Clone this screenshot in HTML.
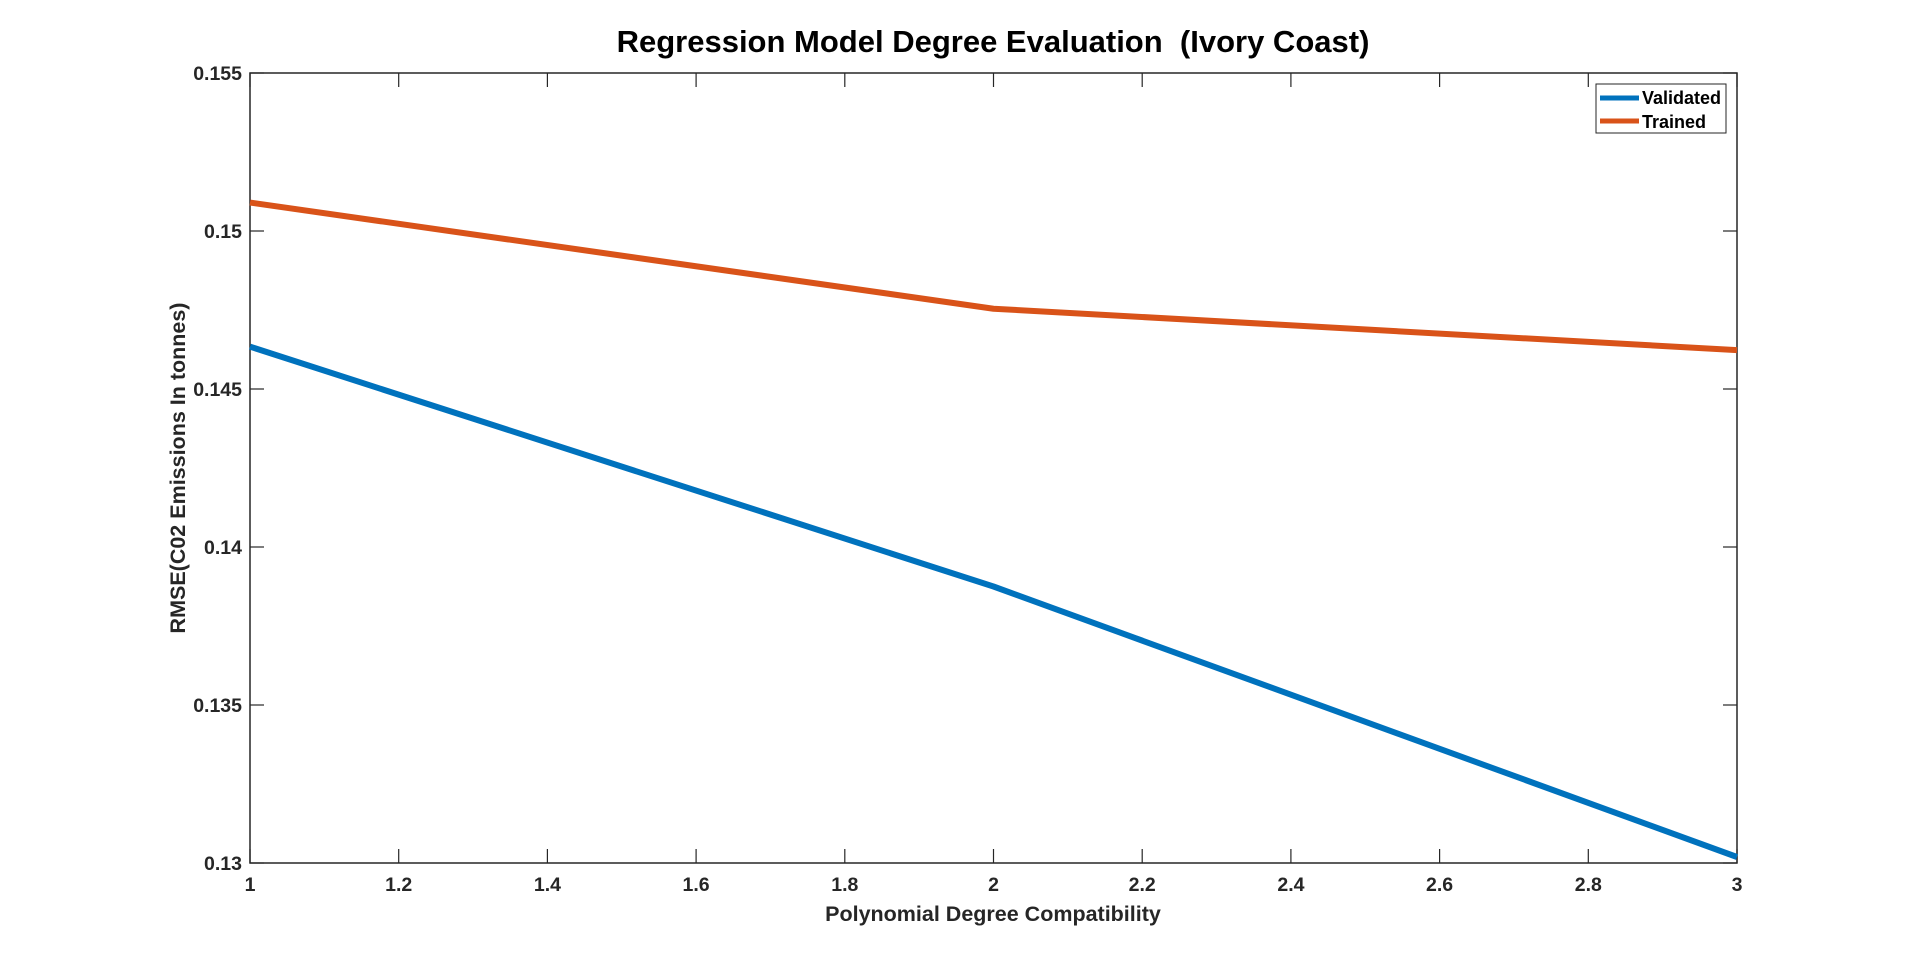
<!DOCTYPE html>
<html><head><meta charset="utf-8"><style>
html,body{margin:0;padding:0;background:#fff;}
svg text{font-family:"Liberation Sans",Arial,sans-serif;font-weight:bold;fill:#262626;}
</style></head><body>
<svg id="chart" width="1920" height="971" xmlns="http://www.w3.org/2000/svg">
<rect width="1920" height="971" fill="#fff"/>
<text x="993" y="52" font-size="31" text-anchor="middle" style="fill:#000;white-space:pre" xml:space="preserve">Regression Model Degree Evaluation  (Ivory Coast)</text>
<g id="axes"></g>
<g id="lines"></g>
<text x="993" y="921" font-size="21.5" text-anchor="middle">Polynomial Degree Compatibility</text>
<text transform="translate(185,468) rotate(-90)" font-size="21.5" text-anchor="middle">RMSE(C02 Emissions In tonnes)</text>
<g>
<rect x="1596" y="84" width="130" height="49" fill="#fff" stroke="#262626" stroke-width="1"/>
<line x1="1600" y1="98" x2="1639" y2="98" stroke="#0072BD" stroke-width="5"/>
<text x="1642" y="104" font-size="18" style="fill:#000">Validated</text>
<line x1="1600" y1="121" x2="1639" y2="121" stroke="#D95319" stroke-width="5"/>
<text x="1642" y="128" font-size="18" style="fill:#000">Trained</text>
</g>
</svg>
<script>
const degrees = [1, 2, 3];
const validated = [0.14634, 0.13875, 0.13019];
const trained = [0.1509, 0.14754, 0.14623];
const xTicks = [1, 1.2, 1.4, 1.6, 1.8, 2, 2.2, 2.4, 2.6, 2.8, 3];
const xTickLabels = ["1","1.2","1.4","1.6","1.8","2","2.2","2.4","2.6","2.8","3"];
const yTicks = [0.13, 0.135, 0.14, 0.145, 0.15, 0.155];
const yTickLabels = ["0.13","0.135","0.14","0.145","0.15","0.155"];
const L=250,R=1737,T=73,B=863, NS="http://www.w3.org/2000/svg";
const xs=v=>L+(v-1)/(3-1)*(R-L);
const ys=v=>B-(v-0.13)/(0.155-0.13)*(B-T);
const axes=document.getElementById('axes'), lines=document.getElementById('lines');
function mk(tag,attrs,parent){const e=document.createElementNS(NS,tag);for(const k in attrs)e.setAttribute(k,attrs[k]);parent.appendChild(e);return e;}
const box=mk('rect',{x:L,y:T,width:R-L,height:B-T,fill:'none',stroke:'#262626','stroke-width':1.5},axes);


xTicks.forEach((v,i)=>{const x=xs(v);
 mk('line',{x1:x,y1:B,x2:x,y2:B-14,stroke:'#262626','stroke-width':1.2},axes);
 mk('line',{x1:x,y1:T,x2:x,y2:T+14,stroke:'#262626','stroke-width':1.2},axes);
 const t=mk('text',{x:x,y:B+28,'font-size':19.5,'text-anchor':'middle'},axes);t.textContent=xTickLabels[i];
 
 
});
yTicks.forEach((v,i)=>{const y=ys(v);
 mk('line',{x1:L,y1:y,x2:L+14,y2:y,stroke:'#262626','stroke-width':1.2},axes);
 mk('line',{x1:R,y1:y,x2:R-14,y2:y,stroke:'#262626','stroke-width':1.2},axes);
 const t=mk('text',{x:L-8,y:y+7,'font-size':19.5,'text-anchor':'end'},axes);t.textContent=yTickLabels[i];
 
 
});
function series(vals,color,name){
 const p=mk('polyline',{points:degrees.map((d,i)=>xs(d)+','+ys(vals[i])).join(' '),fill:'none',stroke:color,'stroke-width':6,'stroke-linejoin':'round'},lines);
 
 
}
series(validated,'#0072BD','validated-line');
series(trained,'#D95319','trained-line');
</script>
</body></html>
